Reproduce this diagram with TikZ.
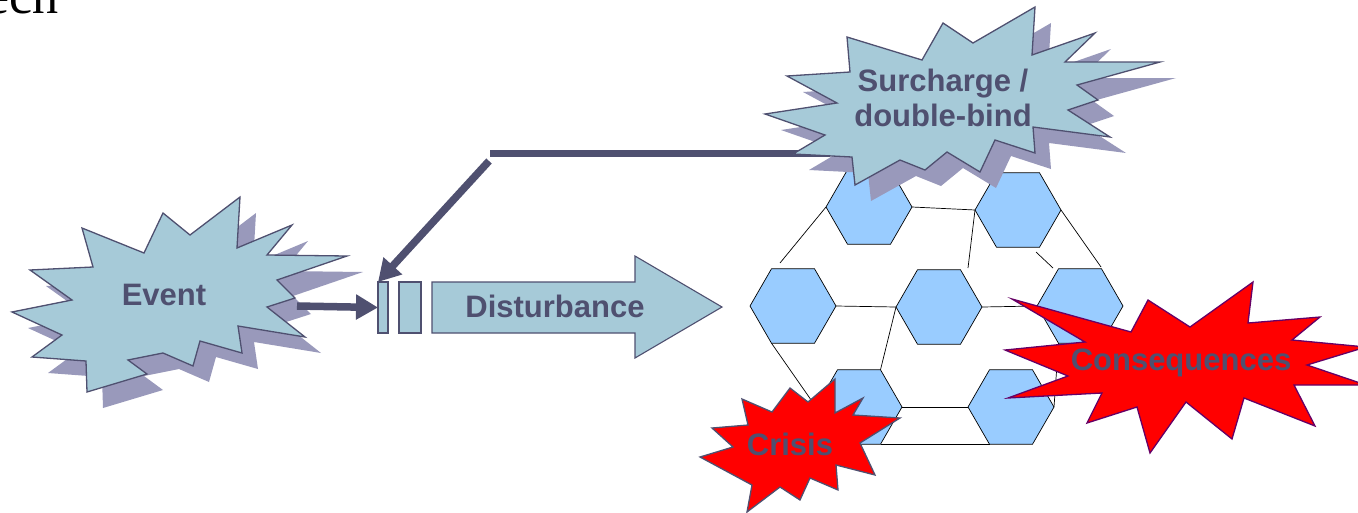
\documentclass[tikz,border=0pt]{standalone}
\usepackage{fontspec}
\setmainfont{Liberation Sans}
\newfontfamily\serifech{Liberation Serif}
\usetikzlibrary{arrows.meta,shapes.geometric}
\definecolor{ink}{HTML}{4F5070}
\definecolor{starblue}{HTML}{A6CAD8}
\definecolor{shade}{HTML}{9999BB}
\definecolor{hexblue}{HTML}{99CCFF}
\definecolor{purp}{HTML}{660066}
\newcommand\evtshape[1]{\path[#1] (240,197) -- (237,248) -- (292,225) -- (267,255) -- (347,256) -- (277,280) -- (295,298) -- (267,307) -- (305,337) -- (238,326) -- (242,353) -- (200,341) -- (193,366) -- (163,353) -- (128,360) -- (147,374) -- (87,392) -- (86,361) -- (32,357) -- (62,335) -- (12,312) -- (72,300) -- (30,270) -- (93,267) -- (82,228) -- (144,253) -- (163,213) -- (190,235) -- cycle;}
\newcommand\surshape[1]{\path[#1] (1035,7) -- (1032,55) -- (1095,33) -- (1065,62) -- (1160,62) -- (1077,85) -- (1098,100) -- (1068,110) -- (1110,137) -- (1033,127) -- (1035,153) -- (995,140) -- (980,172) -- (947,152) -- (925,170) -- (900,160) -- (855,185) -- (852,157) -- (793,154) -- (825,135) -- (765,114) -- (837,103) -- (787,76) -- (850,72) -- (847,37) -- (922,60) -- (943,23) -- (973,43) -- cycle;}
\begin{document}
\begin{tikzpicture}[x=1pt,y=-1pt,
  star/.style={fill=starblue,draw=ink,line width=1.3pt,line join=miter},
  starshadow/.style={fill=shade,draw=none},
  redstar/.style={fill=red,line width=1.3pt,line join=miter},
  hex/.style={regular polygon,regular polygon sides=6,minimum size=86pt,inner sep=0pt,outer sep=0pt,fill=hexblue,draw=black,line width=0.7pt},
  net/.style={draw=black,line width=0.7pt},
  lbl/.style={font=\fontsize{31}{35}\selectfont\bfseries,text=ink,align=center,inner sep=0pt},
  thickline/.style={draw=ink,line width=7.5pt},
  conn/.style={thickline,-{Triangle[length=22pt,width=24pt]}},
  bar/.style={draw=ink,fill=starblue,line width=1.1pt,inner sep=0pt,outer sep=0pt}
]
\useasboundingbox (0,0) rectangle (1358,512);

% title fragment
\node[font=\serifech\fontsize{52}{52}\selectfont,anchor=base east,inner sep=0pt] (ttl) at (59,13) {ech};

% Event star
\evtshape{starshadow,shift={(16,16)}}
\evtshape{star}
\coordinate (evR) at (297,306);

% bars and disturbance arrow
\node[bar,minimum width=10pt,minimum height=51pt] (bar1) at (383,307.5) {};
\node[bar,minimum width=22pt,minimum height=51pt] (bar2) at (410,307.5) {};
\path[bar] (432,282) -- (635,282) -- (635,256) -- (722,307) -- (635,358) -- (635,333) -- (432,333) -- cycle;

% connectors
\coordinate (surchL) at (830,153.5);
\coordinate (corner) at (490,153.5);
\coordinate (diagtop) at (489,161);
\draw[conn] (evR) -- (bar1.west);
\draw[thickline] (surchL) -- (corner);
\draw[conn] (diagtop) -- (bar1.north west);

% hexagon network
\node[hex] (h1) at (869,207) {};
\node[hex] (h2) at (1018,210) {};
\node[hex] (h3) at (793,306) {};
\node[hex] (h4) at (939,307) {};
\node[hex] (h5) at (1080,306) {};
\node[hex] (h6) at (859,407) {};
\node[hex] (h7) at (1011,407) {};
\coordinate (f1) at (780,263);
\coordinate (f2) at (1101,267);
\coordinate (f3a) at (1036,252);
\coordinate (f3b) at (1053,268);
\coordinate (f4) at (968,268);
\draw[net] (h1.0) -- (h2.180);
\draw[net] (h1.180) -- (f1);
\draw[net] (h2.0) -- (f2);
\draw[net] (f3a) -- (f3b);
\draw[net] (h2.180) -- (f4);
\draw[net] (h3.0) -- (h4.180);
\draw[net] (h4.0) -- (h5.180);
\draw[net] (h4.180) -- (h6.60);
\draw[net] (h3.240) -- (h6.180);
\draw[net] (h6.0) -- (h7.180);
\draw[net] (h6.300) -- (h7.240);
\draw[net] (h7.0) -- (h5.240);

% Surcharge star
\surshape{starshadow,shift={(16,16)}}
\surshape{star}

% Crisis star
\path[redstar,draw=ink] (835,379) -- (835,413) -- (863,398) -- (853,415) -- (900,418) -- (860,443) -- (875,475) -- (836,465) -- (838,490) -- (810,478) -- (800,500) -- (780,487) -- (747,512) -- (752,485) -- (700,457) -- (733,447) -- (712,428) -- (748,425) -- (742,399) -- (772,412) -- (790,388) -- (808,402) -- cycle;

% Consequences star
\path[redstar,draw=purp] (1253,282) -- (1248,323) -- (1320,317) -- (1292,340) -- (1366,347) -- (1307,365) -- (1366,385) -- (1294,385) -- (1315,426) -- (1244,398) -- (1232,439) -- (1186,402) -- (1150,453) -- (1137,407) -- (1087,423) -- (1102,393) -- (1008,398) -- (1068,376) -- (1005,350) -- (1085,342) -- (1012,299) -- (1131,332) -- (1148,300) -- (1190,327) -- cycle;

% labels
\node[lbl,anchor=base] (evt) at (164,305) {Event};
\node[lbl,anchor=base] (dist) at (555,317) {Disturbance};
\node[lbl,anchor=center] (surch) at (943,98) {Surcharge /\\double-bind};
\node[lbl,anchor=base] (cri) at (790,455) {Crisis};
\node[lbl,anchor=base] (cons) at (1181,370) {Consequences};
\end{tikzpicture}
\end{document}
